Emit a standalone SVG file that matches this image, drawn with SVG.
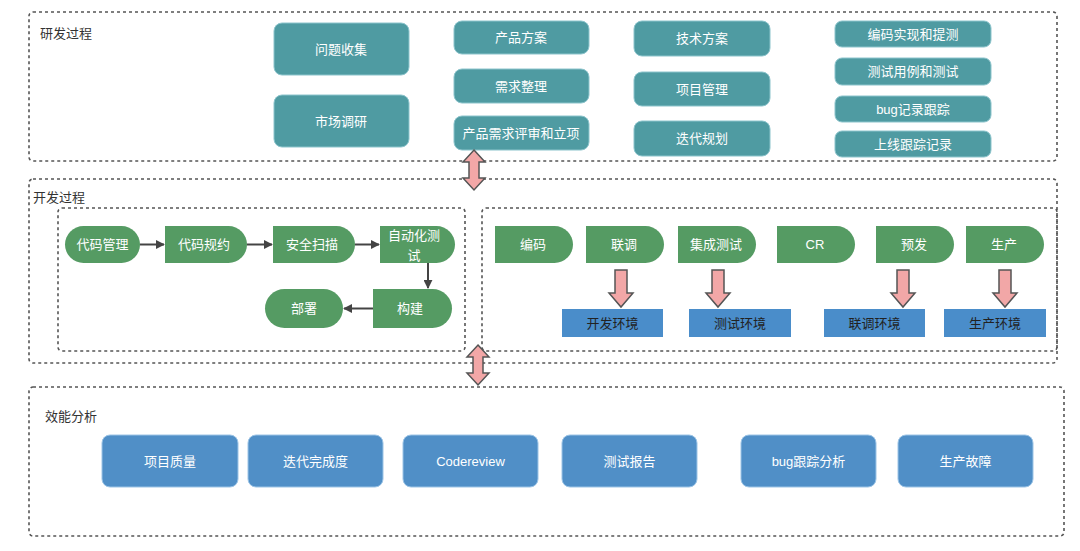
<svg xmlns="http://www.w3.org/2000/svg" width="1080" height="551" viewBox="0 0 1080 551">
<style>
text{font-family:"Liberation Sans","Noto Sans CJK SC",sans-serif;font-size:13px}
.frame{fill:none;stroke:#555;stroke-width:1.6;stroke-dasharray:3 3}
.lbl{fill:#333}
.t{fill:#fff;text-anchor:middle;dominant-baseline:central}
.teal{fill:#4f9ba2;stroke:#8cc4cc;stroke-width:1}
.green{fill:#559b63}
.env{fill:#4a8dca}
.eff{fill:#508fc7;stroke:#9cc4e6;stroke-width:1}
.conn{stroke:#444;stroke-width:2;fill:none}
.blk{fill:#f2a7a7;stroke:#555;stroke-width:1.5}
</style>
<defs>
<marker id="ah" viewBox="0 0 10 10" refX="9" refY="5" markerWidth="4.5" markerHeight="4.5" orient="auto"><path d="M0,0 L10,5 L0,10 Z" fill="#444"/></marker>
</defs>
<rect width="1080" height="551" fill="#fff"/>

<g id="frames">
<rect class="frame" x="29" y="12" width="1028" height="149" rx="4"/>
<text class="lbl" x="40" y="38">研发过程</text>
<rect class="frame" x="29" y="179" width="1028" height="184" rx="4"/>
<text class="lbl" x="33" y="202">开发过程</text>
<rect class="frame" x="58" y="208" width="407" height="143" rx="4"/>
<rect class="frame" x="482" y="208" width="575" height="143" rx="4"/>
<rect class="frame" x="29" y="387" width="1035" height="149" rx="4"/>
<text class="lbl" x="45" y="421">效能分析</text>
</g>

<g id="n-wtsj"><rect class="teal" x="274" y="23" width="135" height="52" rx="8"/><text class="t" x="341" y="49">问题收集</text></g>
<g id="n-scdy"><rect class="teal" x="274" y="95" width="135" height="52" rx="8"/><text class="t" x="341" y="121">市场调研</text></g>
<g id="n-cpfa"><rect class="teal" x="454" y="21" width="135" height="33" rx="8"/><text class="t" x="521" y="37.5">产品方案</text></g>
<g id="n-xqzl"><rect class="teal" x="454" y="69" width="135" height="34" rx="8"/><text class="t" x="521" y="86">需求整理</text></g>
<g id="n-cpxq"><rect class="teal" x="454" y="116" width="135" height="34" rx="8"/><text class="t" x="521" y="133">产品需求评审和立项</text></g>
<g id="n-jsfa"><rect class="teal" x="634" y="21" width="136" height="35" rx="8"/><text class="t" x="702" y="38.5">技术方案</text></g>
<g id="n-xmgl"><rect class="teal" x="634" y="72" width="136" height="34" rx="8"/><text class="t" x="702" y="89">项目管理</text></g>
<g id="n-ddgh"><rect class="teal" x="634" y="121" width="136" height="35" rx="8"/><text class="t" x="702" y="138.5">迭代规划</text></g>
<g id="n-bmsx"><rect class="teal" x="835" y="21" width="156" height="26" rx="7"/><text class="t" x="913" y="34">编码实现和提测</text></g>
<g id="n-csyl"><rect class="teal" x="835" y="58" width="156" height="27" rx="7"/><text class="t" x="913" y="71.5">测试用例和测试</text></g>
<g id="n-bug"><rect class="teal" x="835" y="96" width="156" height="26" rx="7"/><text class="t" x="913" y="109">bug记录跟踪</text></g>
<g id="n-sxgz"><rect class="teal" x="835" y="131" width="156" height="26" rx="7"/><text class="t" x="913" y="144">上线跟踪记录</text></g>

<g id="n-dmgl"><rect class="green" x="65" y="226" width="75" height="37" rx="18.5"/><text class="t" x="102.5" y="244.5">代码管理</text></g>
<g id="n-dmgy"><path class="green" d="M165,226 H228.5 A18.5,18.5 0 0 1 228.5,263 H165 Z"/><text class="t" x="204" y="244.5">代码规约</text></g>
<g id="n-aqsm"><path class="green" d="M273,226 H336.5 A18.5,18.5 0 0 1 336.5,263 H273 Z"/><text class="t" x="312" y="244.5">安全扫描</text></g>
<g id="n-zdhcs"><path class="green" d="M380,226 H436.5 A18.5,18.5 0 0 1 436.5,263 H380 Z"/><text class="t" x="414" y="235">自动化测</text><text class="t" x="414" y="255">试</text></g>
<g id="n-gj"><path class="green" d="M373,289 H432.5 A19.5,19.5 0 0 1 432.5,328 H373 Z"/><text class="t" x="410" y="308.5">构建</text></g>
<g id="n-bs"><rect class="green" x="265" y="289" width="78" height="39" rx="19.5"/><text class="t" x="304" y="308.5">部署</text></g>

<g id="n-bm"><path class="green" d="M495,226 H554.5 A18.5,18.5 0 0 1 554.5,263 H495 Z"/><text class="t" x="533" y="244.5">编码</text></g>
<g id="n-lt"><path class="green" d="M586,226 H645.5 A18.5,18.5 0 0 1 645.5,263 H586 Z"/><text class="t" x="624" y="244.5">联调</text></g>
<g id="n-jccs"><path class="green" d="M678,226 H737.5 A18.5,18.5 0 0 1 737.5,263 H678 Z"/><text class="t" x="716" y="244.5">集成测试</text></g>
<g id="n-cr"><path class="green" d="M777,226 H836.5 A18.5,18.5 0 0 1 836.5,263 H777 Z"/><text class="t" x="815" y="244.5">CR</text></g>
<g id="n-yf"><path class="green" d="M876,226 H935.5 A18.5,18.5 0 0 1 935.5,263 H876 Z"/><text class="t" x="914" y="244.5">预发</text></g>
<g id="n-sc"><path class="green" d="M966,226 H1025.5 A18.5,18.5 0 0 1 1025.5,263 H966 Z"/><text class="t" x="1004" y="244.5">生产</text></g>

<g id="n-kfhj"><rect class="env" x="562" y="309" width="101" height="28"/><text class="t" x="612.5" y="323" style="fill:#222">开发环境</text></g>
<g id="n-cshj"><rect class="env" x="689" y="309" width="102" height="28"/><text class="t" x="740" y="323" style="fill:#222">测试环境</text></g>
<g id="n-lthj"><rect class="env" x="824" y="309" width="101" height="28"/><text class="t" x="874.5" y="323" style="fill:#222">联调环境</text></g>
<g id="n-schj"><rect class="env" x="944" y="309" width="102" height="28"/><text class="t" x="995" y="323" style="fill:#222">生产环境</text></g>

<g id="n-xmzl"><rect class="eff" x="102" y="435" width="136" height="52" rx="8"/><text class="t" x="170" y="461">项目质量</text></g>
<g id="n-ddwcd"><rect class="eff" x="248" y="435" width="135" height="52" rx="8"/><text class="t" x="315.5" y="461">迭代完成度</text></g>
<g id="n-cr2"><rect class="eff" x="403" y="435" width="135" height="52" rx="8"/><text class="t" x="470.5" y="461">Codereview</text></g>
<g id="n-csbg"><rect class="eff" x="562" y="435" width="135" height="52" rx="8"/><text class="t" x="629.5" y="461">测试报告</text></g>
<g id="n-bugfx"><rect class="eff" x="741" y="435" width="135" height="52" rx="8"/><text class="t" x="808.5" y="461">bug跟踪分析</text></g>
<g id="n-scgz"><rect class="eff" x="898" y="435" width="135" height="52" rx="8"/><text class="t" x="965.5" y="461">生产故障</text></g>

<g id="connectors">
<line class="conn" x1="140" y1="244.5" x2="164" y2="244.5" marker-end="url(#ah)"/>
<line class="conn" x1="247" y1="244.5" x2="272" y2="244.5" marker-end="url(#ah)"/>
<line class="conn" x1="355" y1="244.5" x2="379" y2="244.5" marker-end="url(#ah)"/>
<line class="conn" x1="428" y1="263" x2="428" y2="288" marker-end="url(#ah)"/>
<line class="conn" x1="373" y1="308.5" x2="344" y2="308.5" marker-end="url(#ah)"/>
<path class="blk" d="M615,270 H627 V293 H633 L621,307 L609,293 H615 Z"/>
<path class="blk" d="M712,270 H724 V293 H730 L718,307 L706,293 H712 Z"/>
<path class="blk" d="M897,270 H909 V293 H915 L903,307 L891,293 H897 Z"/>
<path class="blk" d="M999,270 H1011 V293 H1017 L1005,307 L993,293 H999 Z"/>
<path class="blk" d="M474,150 L485,162 H479 V178 H485 L474,190 L463,178 H469 V162 H463 Z"/>
<path class="blk" d="M478,345 L489,357 H483 V373 H489 L478,385 L467,373 H473 V357 H467 Z"/>
</g>
</svg>
